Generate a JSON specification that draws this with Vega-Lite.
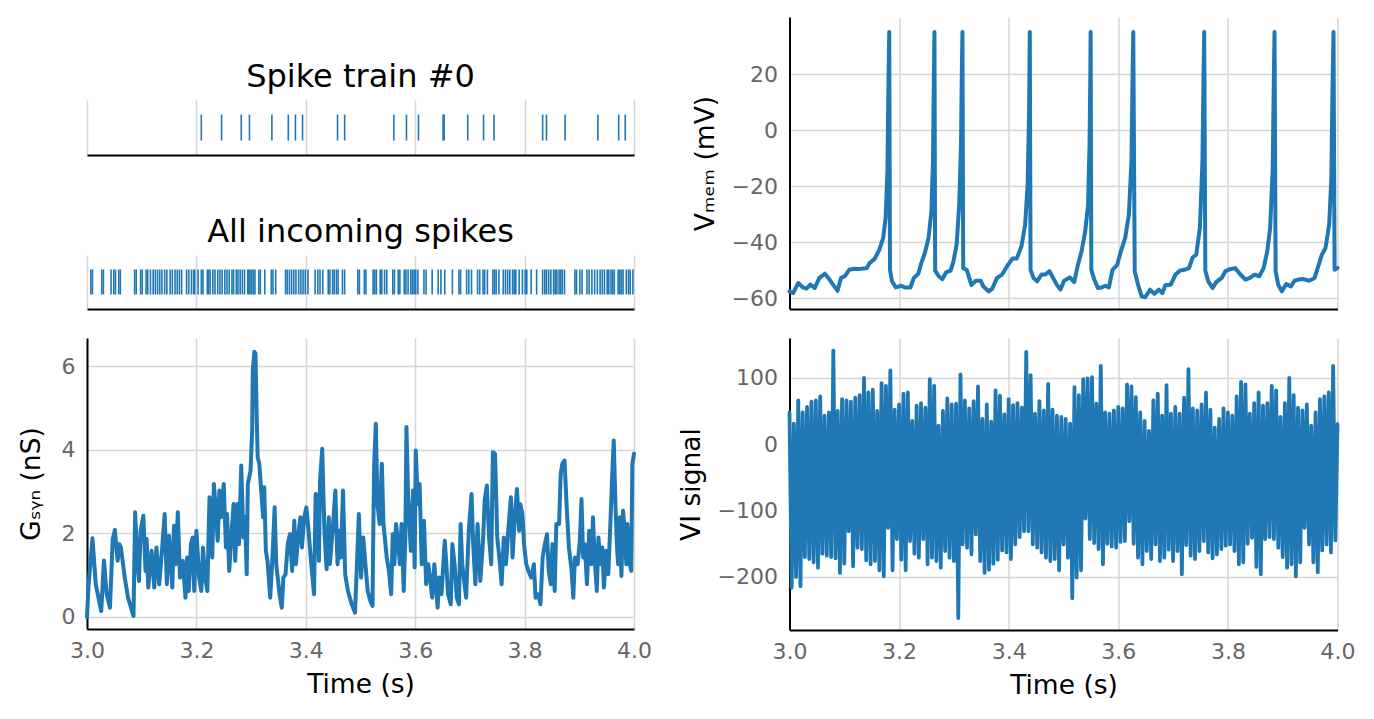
{
"$schema": "https://vega.github.io/schema/vega-lite/v6.json",
"background": "white",
"padding": {"left": 18, "top": 17, "right": 5, "bottom": 5},
"config": {
 "font": "DejaVu Sans",
 "view": {"stroke": null},
 "axis": {"domainColor": "#000000", "domainWidth": 2, "gridColor": "#d6d6d6", "gridWidth": 1.5, "ticks": false, "labelColor": "#666666", "labelFontSize": 22, "titleFontSize": 26.5, "titleFontWeight": "normal", "titleColor": "#000000", "labelFlush": false},
 "axisX": {"labelPadding": 11, "titlePadding": 10},
 "axisY": {"labelPadding": 12, "titlePadding": 12},
 "title": {"fontSize": 32, "fontWeight": "normal", "color": "#000000", "offset": 6}
},
"datasets": {
 "spk0": [{"t":3.209},{"t":3.246},{"t":3.282},{"t":3.297},{"t":3.338},{"t":3.368},{"t":3.381},{"t":3.394},{"t":3.458},{"t":3.471},{"t":3.561},{"t":3.584},{"t":3.606},{"t":3.651},{"t":3.653},{"t":3.696},{"t":3.725},{"t":3.744},{"t":3.833},{"t":3.840},{"t":3.874},{"t":3.934},{"t":3.972},{"t":3.984}],
 "inc": [{"t":3.007},{"t":3.010},{"t":3.027},{"t":3.030},{"t":3.044},{"t":3.049},{"t":3.052},{"t":3.058},{"t":3.061},{"t":3.087},{"t":3.090},{"t":3.098},{"t":3.101},{"t":3.108},{"t":3.111},{"t":3.116},{"t":3.121},{"t":3.125},{"t":3.129},{"t":3.133},{"t":3.137},{"t":3.142},{"t":3.146},{"t":3.152},{"t":3.156},{"t":3.161},{"t":3.165},{"t":3.169},{"t":3.173},{"t":3.182},{"t":3.186},{"t":3.191},{"t":3.195},{"t":3.197},{"t":3.203},{"t":3.209},{"t":3.212},{"t":3.220},{"t":3.222},{"t":3.225},{"t":3.230},{"t":3.234},{"t":3.239},{"t":3.243},{"t":3.247},{"t":3.252},{"t":3.256},{"t":3.260},{"t":3.265},{"t":3.268},{"t":3.273},{"t":3.276},{"t":3.280},{"t":3.284},{"t":3.288},{"t":3.294},{"t":3.296},{"t":3.298},{"t":3.301},{"t":3.304},{"t":3.307},{"t":3.314},{"t":3.317},{"t":3.325},{"t":3.337},{"t":3.340},{"t":3.345},{"t":3.363},{"t":3.366},{"t":3.370},{"t":3.374},{"t":3.378},{"t":3.382},{"t":3.387},{"t":3.391},{"t":3.395},{"t":3.399},{"t":3.404},{"t":3.417},{"t":3.422},{"t":3.426},{"t":3.431},{"t":3.441},{"t":3.444},{"t":3.449},{"t":3.452},{"t":3.456},{"t":3.459},{"t":3.467},{"t":3.471},{"t":3.495},{"t":3.498},{"t":3.507},{"t":3.510},{"t":3.523},{"t":3.526},{"t":3.529},{"t":3.536},{"t":3.539},{"t":3.544},{"t":3.548},{"t":3.559},{"t":3.562},{"t":3.569},{"t":3.572},{"t":3.580},{"t":3.583},{"t":3.587},{"t":3.592},{"t":3.595},{"t":3.598},{"t":3.601},{"t":3.605},{"t":3.616},{"t":3.620},{"t":3.631},{"t":3.642},{"t":3.647},{"t":3.654},{"t":3.668},{"t":3.680},{"t":3.683},{"t":3.694},{"t":3.698},{"t":3.703},{"t":3.714},{"t":3.718},{"t":3.724},{"t":3.727},{"t":3.732},{"t":3.742},{"t":3.745},{"t":3.748},{"t":3.753},{"t":3.761},{"t":3.765},{"t":3.769},{"t":3.773},{"t":3.778},{"t":3.781},{"t":3.784},{"t":3.790},{"t":3.796},{"t":3.801},{"t":3.804},{"t":3.812},{"t":3.822},{"t":3.833},{"t":3.837},{"t":3.840},{"t":3.844},{"t":3.848},{"t":3.853},{"t":3.856},{"t":3.859},{"t":3.863},{"t":3.866},{"t":3.869},{"t":3.873},{"t":3.892},{"t":3.895},{"t":3.901},{"t":3.905},{"t":3.914},{"t":3.918},{"t":3.923},{"t":3.928},{"t":3.933},{"t":3.938},{"t":3.942},{"t":3.946},{"t":3.951},{"t":3.954},{"t":3.958},{"t":3.961},{"t":3.964},{"t":3.971},{"t":3.974},{"t":3.977},{"t":3.980},{"t":3.986},{"t":3.990},{"t":3.993},{"t":3.998}],
 "gsyn": [{"t":3.000,"g":0},{"t":3.003,"g":0.78},{"t":3.010,"g":1.88},{"t":3.016,"g":0.78},{"t":3.026,"g":0.14},{"t":3.031,"g":1.35},{"t":3.036,"g":0.54},{"t":3.042,"g":0.22},{"t":3.047,"g":1.86},{"t":3.051,"g":2.08},{"t":3.056,"g":1.34},{"t":3.059,"g":1.74},{"t":3.062,"g":1.66},{"t":3.069,"g":0.94},{"t":3.075,"g":0.46},{"t":3.085,"g":0.02},{"t":3.088,"g":2.50},{"t":3.092,"g":1.34},{"t":3.095,"g":0.86},{"t":3.098,"g":2.06},{"t":3.103,"g":2.42},{"t":3.107,"g":1.10},{"t":3.109,"g":1.86},{"t":3.112,"g":0.70},{"t":3.118,"g":1.58},{"t":3.123,"g":0.70},{"t":3.127,"g":1.66},{"t":3.132,"g":0.78},{"t":3.137,"g":1.58},{"t":3.142,"g":2.46},{"t":3.146,"g":0.78},{"t":3.150,"g":1.94},{"t":3.156,"g":0.70},{"t":3.159,"g":2.18},{"t":3.162,"g":1.26},{"t":3.166,"g":2.50},{"t":3.170,"g":0.94},{"t":3.175,"g":1.34},{"t":3.180,"g":0.46},{"t":3.183,"g":1.42},{"t":3.186,"g":0.62},{"t":3.190,"g":1.74},{"t":3.193,"g":1.90},{"t":3.196,"g":0.62},{"t":3.200,"g":2.06},{"t":3.205,"g":0.94},{"t":3.209,"g":0.62},{"t":3.212,"g":1.66},{"t":3.216,"g":0.94},{"t":3.220,"g":0.62},{"t":3.222,"g":1.82},{"t":3.224,"g":2.86},{"t":3.229,"g":1.42},{"t":3.232,"g":3.18},{"t":3.235,"g":2.62},{"t":3.239,"g":1.82},{"t":3.242,"g":3.02},{"t":3.245,"g":2.38},{"t":3.250,"g":3.18},{"t":3.254,"g":1.66},{"t":3.256,"g":2.46},{"t":3.260,"g":1.10},{"t":3.265,"g":2.14},{"t":3.268,"g":2.70},{"t":3.271,"g":1.34},{"t":3.275,"g":2.70},{"t":3.278,"g":1.74},{"t":3.282,"g":3.62},{"t":3.286,"g":1.90},{"t":3.289,"g":2.38},{"t":3.292,"g":1.02},{"t":3.294,"g":3.18},{"t":3.299,"g":3.50},{"t":3.302,"g":4.46},{"t":3.303,"g":5.90},{"t":3.306,"g":6.34},{"t":3.308,"g":6.30},{"t":3.310,"g":4.94},{"t":3.312,"g":3.82},{"t":3.315,"g":3.66},{"t":3.318,"g":3.10},{"t":3.322,"g":2.38},{"t":3.324,"g":3.10},{"t":3.327,"g":1.58},{"t":3.330,"g":1.34},{"t":3.335,"g":0.46},{"t":3.339,"g":1.42},{"t":3.343,"g":2.62},{"t":3.346,"g":1.26},{"t":3.352,"g":0.54},{"t":3.356,"g":0.22},{"t":3.359,"g":0.94},{"t":3.363,"g":1.02},{"t":3.367,"g":1.74},{"t":3.371,"g":1.98},{"t":3.375,"g":1.10},{"t":3.379,"g":2.30},{"t":3.382,"g":1.26},{"t":3.386,"g":1.90},{"t":3.390,"g":2.38},{"t":3.393,"g":1.66},{"t":3.397,"g":2.38},{"t":3.401,"g":2.62},{"t":3.405,"g":2.06},{"t":3.410,"g":1.26},{"t":3.415,"g":0.54},{"t":3.418,"g":2.94},{"t":3.421,"g":2.86},{"t":3.424,"g":1.34},{"t":3.426,"g":3.26},{"t":3.430,"g":4.02},{"t":3.434,"g":2.06},{"t":3.438,"g":1.14},{"t":3.442,"g":2.38},{"t":3.444,"g":1.26},{"t":3.448,"g":1.90},{"t":3.451,"g":2.42},{"t":3.454,"g":3.02},{"t":3.458,"g":1.26},{"t":3.461,"g":2.06},{"t":3.464,"g":1.42},{"t":3.468,"g":3.02},{"t":3.472,"g":1.02},{"t":3.477,"g":0.62},{"t":3.484,"g":0.30},{"t":3.490,"g":0.10},{"t":3.497,"g":2.46},{"t":3.501,"g":0.94},{"t":3.505,"g":1.90},{"t":3.509,"g":1.26},{"t":3.513,"g":0.62},{"t":3.518,"g":0.38},{"t":3.522,"g":0.26},{"t":3.523,"g":1.62},{"t":3.525,"g":3.66},{"t":3.528,"g":4.62},{"t":3.531,"g":2.70},{"t":3.535,"g":2.22},{"t":3.539,"g":3.66},{"t":3.542,"g":2.22},{"t":3.548,"g":1.42},{"t":3.552,"g":1.10},{"t":3.556,"g":0.54},{"t":3.559,"g":1.98},{"t":3.562,"g":1.26},{"t":3.565,"g":2.22},{"t":3.569,"g":1.74},{"t":3.572,"g":1.26},{"t":3.575,"g":2.22},{"t":3.579,"g":0.62},{"t":3.582,"g":1.90},{"t":3.584,"g":4.54},{"t":3.587,"g":2.86},{"t":3.592,"g":1.58},{"t":3.596,"g":3.02},{"t":3.599,"g":1.18},{"t":3.601,"g":3.98},{"t":3.605,"g":2.70},{"t":3.608,"g":3.18},{"t":3.612,"g":1.26},{"t":3.616,"g":2.30},{"t":3.620,"g":0.78},{"t":3.624,"g":1.26},{"t":3.627,"g":0.94},{"t":3.631,"g":0.46},{"t":3.635,"g":1.26},{"t":3.641,"g":0.22},{"t":3.644,"g":0.94},{"t":3.648,"g":0.54},{"t":3.654,"g":1.82},{"t":3.657,"g":1.26},{"t":3.660,"g":0.54},{"t":3.665,"g":0.30},{"t":3.668,"g":1.74},{"t":3.672,"g":1.26},{"t":3.676,"g":0.46},{"t":3.680,"g":0.30},{"t":3.683,"g":2.22},{"t":3.686,"g":1.26},{"t":3.693,"g":0.46},{"t":3.698,"g":2.06},{"t":3.703,"g":2.94},{"t":3.706,"g":1.74},{"t":3.710,"g":0.78},{"t":3.714,"g":2.22},{"t":3.719,"g":0.86},{"t":3.724,"g":1.82},{"t":3.727,"g":2.78},{"t":3.731,"g":3.14},{"t":3.735,"g":1.90},{"t":3.739,"g":1.26},{"t":3.742,"g":3.94},{"t":3.746,"g":3.90},{"t":3.750,"g":1.90},{"t":3.755,"g":1.26},{"t":3.758,"g":0.78},{"t":3.762,"g":1.90},{"t":3.766,"g":1.26},{"t":3.771,"g":2.22},{"t":3.775,"g":2.86},{"t":3.778,"g":1.42},{"t":3.782,"g":2.38},{"t":3.786,"g":3.06},{"t":3.790,"g":2.06},{"t":3.792,"g":2.70},{"t":3.796,"g":2.46},{"t":3.799,"g":1.74},{"t":3.803,"g":1.26},{"t":3.807,"g":1.10},{"t":3.812,"g":0.94},{"t":3.817,"g":1.26},{"t":3.820,"g":0.46},{"t":3.825,"g":0.54},{"t":3.829,"g":0.30},{"t":3.833,"g":1.42},{"t":3.837,"g":1.74},{"t":3.841,"g":1.98},{"t":3.844,"g":1.10},{"t":3.848,"g":0.78},{"t":3.851,"g":1.74},{"t":3.855,"g":0.62},{"t":3.858,"g":2.22},{"t":3.863,"g":2.22},{"t":3.866,"g":3.42},{"t":3.869,"g":3.66},{"t":3.873,"g":3.74},{"t":3.877,"g":2.62},{"t":3.881,"g":1.66},{"t":3.886,"g":1.10},{"t":3.889,"g":0.46},{"t":3.892,"g":1.42},{"t":3.897,"g":1.26},{"t":3.901,"g":1.82},{"t":3.904,"g":2.82},{"t":3.907,"g":1.42},{"t":3.910,"g":1.74},{"t":3.914,"g":0.78},{"t":3.918,"g":2.06},{"t":3.922,"g":1.26},{"t":3.925,"g":2.38},{"t":3.928,"g":1.42},{"t":3.932,"g":0.62},{"t":3.935,"g":1.90},{"t":3.939,"g":1.26},{"t":3.942,"g":1.66},{"t":3.945,"g":0.70},{"t":3.949,"g":1.58},{"t":3.953,"g":1.02},{"t":3.957,"g":2.30},{"t":3.961,"g":3.66},{"t":3.963,"g":4.22},{"t":3.966,"g":2.70},{"t":3.969,"g":1.66},{"t":3.971,"g":1.26},{"t":3.974,"g":2.38},{"t":3.977,"g":0.98},{"t":3.980,"g":2.54},{"t":3.983,"g":2.06},{"t":3.986,"g":1.26},{"t":3.988,"g":2.22},{"t":3.991,"g":1.34},{"t":3.995,"g":1.10},{"t":3.997,"g":3.66},{"t":4.000,"g":3.90}],
 "vmem": [{"t":3.000,"v":-57.6},{"t":3.0066,"v":-58.2},{"t":3.016,"v":-54.6},{"t":3.0246,"v":-56.2},{"t":3.031,"v":-56.6},{"t":3.038,"v":-55.2},{"t":3.046,"v":-56.4},{"t":3.0545,"v":-52.8},{"t":3.0645,"v":-51.3},{"t":3.073,"v":-53.4},{"t":3.0877,"v":-57.4},{"t":3.094,"v":-52.8},{"t":3.101,"v":-52.2},{"t":3.109,"v":-49.9},{"t":3.1176,"v":-49.5},{"t":3.1276,"v":-49.6},{"t":3.141,"v":-49.3},{"t":3.146,"v":-47.5},{"t":3.1555,"v":-46.0},{"t":3.164,"v":-42.7},{"t":3.171,"v":-38.5},{"t":3.1754,"v":-31.4},{"t":3.1787,"v":-14.7},{"t":3.1807,"v":18.6},{"t":3.182,"v":35.0},{"t":3.1834,"v":-49.9},{"t":3.187,"v":-54.0},{"t":3.194,"v":-56.2},{"t":3.204,"v":-55.6},{"t":3.2106,"v":-56.2},{"t":3.2206,"v":-56.2},{"t":3.227,"v":-52.8},{"t":3.235,"v":-51.3},{"t":3.2405,"v":-47.5},{"t":3.247,"v":-43.9},{"t":3.2538,"v":-38.5},{"t":3.259,"v":-29.0},{"t":3.2618,"v":-11.2},{"t":3.2631,"v":12.6},{"t":3.2645,"v":35.0},{"t":3.2658,"v":-50.2},{"t":3.2724,"v":-52.2},{"t":3.279,"v":-53.2},{"t":3.2857,"v":-50.8},{"t":3.294,"v":-50.2},{"t":3.299,"v":-47.1},{"t":3.305,"v":-40.9},{"t":3.3097,"v":-26.6},{"t":3.313,"v":-5.2},{"t":3.3143,"v":18.6},{"t":3.3156,"v":35.0},{"t":3.317,"v":-49.3},{"t":3.3236,"v":-50.0},{"t":3.332,"v":-55.4},{"t":3.340,"v":-53.8},{"t":3.349,"v":-53.8},{"t":3.3535,"v":-55.8},{"t":3.3635,"v":-57.6},{"t":3.370,"v":-56.6},{"t":3.3787,"v":-52.8},{"t":3.388,"v":-51.6},{"t":3.3967,"v":-48.7},{"t":3.4067,"v":-45.9},{"t":3.4146,"v":-45.9},{"t":3.4233,"v":-41.5},{"t":3.430,"v":-33.8},{"t":3.4346,"v":-19.5},{"t":3.4372,"v":6.7},{"t":3.4385,"v":35.0},{"t":3.4399,"v":-49.9},{"t":3.4452,"v":-52.8},{"t":3.4518,"v":-54.0},{"t":3.4598,"v":-51.6},{"t":3.4665,"v":-51.6},{"t":3.4744,"v":-50.4},{"t":3.481,"v":-52.8},{"t":3.4877,"v":-55.2},{"t":3.4944,"v":-57.0},{"t":3.501,"v":-53.8},{"t":3.5116,"v":-52.6},{"t":3.5196,"v":-54.3},{"t":3.5263,"v":-48.1},{"t":3.533,"v":-43.3},{"t":3.5396,"v":-36.2},{"t":3.5449,"v":-26.6},{"t":3.5475,"v":-5.2},{"t":3.5489,"v":18.6},{"t":3.5495,"v":35.0},{"t":3.5508,"v":-49.9},{"t":3.5562,"v":-53.4},{"t":3.5628,"v":-56.4},{"t":3.5695,"v":-56.2},{"t":3.5761,"v":-55.6},{"t":3.5828,"v":-56.2},{"t":3.5894,"v":-49.9},{"t":3.598,"v":-48.1},{"t":3.6047,"v":-43.3},{"t":3.6126,"v":-38.5},{"t":3.6193,"v":-30.2},{"t":3.624,"v":-11.2},{"t":3.626,"v":18.6},{"t":3.6273,"v":35.0},{"t":3.630,"v":-50.4},{"t":3.636,"v":-55.2},{"t":3.6425,"v":-59.4},{"t":3.6492,"v":-59.7},{"t":3.6578,"v":-57.0},{"t":3.6658,"v":-58.5},{"t":3.6738,"v":-57.0},{"t":3.6804,"v":-58.2},{"t":3.6858,"v":-55.4},{"t":3.6957,"v":-55.2},{"t":3.7044,"v":-51.6},{"t":3.7123,"v":-50.2},{"t":3.7203,"v":-49.9},{"t":3.729,"v":-49.3},{"t":3.7356,"v":-45.5},{"t":3.7422,"v":-44.5},{"t":3.7489,"v":-35.0},{"t":3.7535,"v":-11.2},{"t":3.7555,"v":18.6},{"t":3.7568,"v":35.0},{"t":3.7588,"v":-50.2},{"t":3.7641,"v":-54.0},{"t":3.7721,"v":-56.4},{"t":3.7787,"v":-54.3},{"t":3.7887,"v":-52.8},{"t":3.7954,"v":-50.4},{"t":3.8053,"v":-49.6},{"t":3.8133,"v":-49.3},{"t":3.822,"v":-51.4},{"t":3.832,"v":-53.4},{"t":3.840,"v":-52.8},{"t":3.8486,"v":-51.6},{"t":3.8572,"v":-52.2},{"t":3.8652,"v":-49.3},{"t":3.8718,"v":-43.3},{"t":3.8771,"v":-35.0},{"t":3.8818,"v":-13.6},{"t":3.8838,"v":18.6},{"t":3.8851,"v":35.0},{"t":3.8871,"v":-50.4},{"t":3.8918,"v":-55.2},{"t":3.8984,"v":-57.6},{"t":3.9064,"v":-55.0},{"t":3.915,"v":-55.8},{"t":3.9217,"v":-53.8},{"t":3.9283,"v":-53.4},{"t":3.9383,"v":-53.2},{"t":3.9482,"v":-53.8},{"t":3.9582,"v":-52.8},{"t":3.9648,"v":-48.7},{"t":3.9715,"v":-44.5},{"t":3.9781,"v":-42.1},{"t":3.9848,"v":-33.8},{"t":3.9888,"v":-17.1},{"t":3.9907,"v":12.6},{"t":3.9927,"v":35.0},{"t":3.9947,"v":-49.9},{"t":4.000,"v":-49.3}],
 "vi": [{"t":3.000,"s":48},{"t":3.004,"s":-216},{"t":3.008,"s":31},{"t":3.012,"s":-200},{"t":3.016,"s":66},{"t":3.020,"s":-214},{"t":3.024,"s":48},{"t":3.028,"s":-170},{"t":3.032,"s":56},{"t":3.036,"s":-173},{"t":3.040,"s":64},{"t":3.044,"s":-178},{"t":3.048,"s":66},{"t":3.052,"s":-186},{"t":3.056,"s":72},{"t":3.060,"s":-165},{"t":3.064,"s":43},{"t":3.068,"s":-168},{"t":3.072,"s":48},{"t":3.076,"s":-170},{"t":3.080,"s":141},{"t":3.084,"s":-172},{"t":3.088,"s":50},{"t":3.092,"s":-194},{"t":3.096,"s":68},{"t":3.100,"s":-180},{"t":3.104,"s":66},{"t":3.108,"s":-131},{"t":3.112,"s":64},{"t":3.116,"s":-184},{"t":3.120,"s":70},{"t":3.124,"s":-156},{"t":3.128,"s":74},{"t":3.132,"s":-158},{"t":3.136,"s":100},{"t":3.140,"s":-175},{"t":3.144,"s":78},{"t":3.148,"s":-181},{"t":3.152,"s":82},{"t":3.156,"s":-176},{"t":3.160,"s":50},{"t":3.164,"s":-190},{"t":3.168,"s":92},{"t":3.172,"s":-199},{"t":3.176,"s":88},{"t":3.180,"s":-126},{"t":3.184,"s":111},{"t":3.188,"s":-190},{"t":3.192,"s":52},{"t":3.196,"s":-143},{"t":3.200,"s":60},{"t":3.204,"s":-174},{"t":3.208,"s":76},{"t":3.212,"s":-190},{"t":3.216,"s":78},{"t":3.220,"s":-146},{"t":3.224,"s":35},{"t":3.228,"s":-165},{"t":3.232,"s":58},{"t":3.236,"s":-171},{"t":3.240,"s":62},{"t":3.244,"s":-143},{"t":3.248,"s":55},{"t":3.252,"s":-181},{"t":3.256,"s":98},{"t":3.260,"s":-171},{"t":3.264,"s":88},{"t":3.268,"s":-176},{"t":3.272,"s":28},{"t":3.276,"s":-186},{"t":3.280,"s":50},{"t":3.284,"s":-161},{"t":3.288,"s":69},{"t":3.292,"s":-171},{"t":3.296,"s":60},{"t":3.300,"s":-176},{"t":3.304,"s":61},{"t":3.308,"s":-262},{"t":3.312,"s":105},{"t":3.316,"s":-151},{"t":3.320,"s":66},{"t":3.324,"s":-156},{"t":3.328,"s":54},{"t":3.332,"s":-166},{"t":3.336,"s":65},{"t":3.340,"s":-136},{"t":3.344,"s":87},{"t":3.348,"s":-176},{"t":3.352,"s":38},{"t":3.356,"s":-194},{"t":3.360,"s":60},{"t":3.364,"s":-189},{"t":3.368,"s":34},{"t":3.372,"s":-180},{"t":3.376,"s":81},{"t":3.380,"s":-174},{"t":3.384,"s":73},{"t":3.388,"s":-160},{"t":3.392,"s":45},{"t":3.396,"s":-163},{"t":3.400,"s":68},{"t":3.404,"s":-173},{"t":3.408,"s":59},{"t":3.412,"s":-151},{"t":3.416,"s":62},{"t":3.420,"s":-140},{"t":3.424,"s":55},{"t":3.428,"s":-131},{"t":3.432,"s":139},{"t":3.436,"s":-131},{"t":3.440,"s":104},{"t":3.444,"s":-151},{"t":3.448,"s":46},{"t":3.452,"s":-156},{"t":3.456,"s":65},{"t":3.460,"s":-163},{"t":3.464,"s":51},{"t":3.468,"s":-171},{"t":3.472,"s":91},{"t":3.476,"s":-176},{"t":3.480,"s":52},{"t":3.484,"s":-173},{"t":3.488,"s":43},{"t":3.492,"s":-190},{"t":3.496,"s":41},{"t":3.500,"s":-151},{"t":3.504,"s":38},{"t":3.508,"s":-171},{"t":3.512,"s":31},{"t":3.516,"s":-232},{"t":3.520,"s":86},{"t":3.524,"s":-201},{"t":3.528,"s":74},{"t":3.532,"s":-190},{"t":3.536,"s":98},{"t":3.540,"s":-112},{"t":3.544,"s":99},{"t":3.548,"s":-143},{"t":3.552,"s":101},{"t":3.556,"s":-149},{"t":3.560,"s":61},{"t":3.564,"s":-158},{"t":3.568,"s":118},{"t":3.572,"s":-181},{"t":3.576,"s":48},{"t":3.580,"s":-150},{"t":3.584,"s":46},{"t":3.588,"s":-154},{"t":3.592,"s":51},{"t":3.596,"s":-156},{"t":3.600,"s":56},{"t":3.604,"s":-147},{"t":3.608,"s":54},{"t":3.612,"s":-146},{"t":3.616,"s":90},{"t":3.620,"s":-116},{"t":3.624,"s":87},{"t":3.628,"s":-150},{"t":3.632,"s":71},{"t":3.636,"s":-171},{"t":3.640,"s":48},{"t":3.644,"s":-181},{"t":3.648,"s":35},{"t":3.652,"s":-161},{"t":3.656,"s":20},{"t":3.660,"s":-173},{"t":3.664,"s":66},{"t":3.668,"s":-151},{"t":3.672,"s":76},{"t":3.676,"s":-176},{"t":3.680,"s":43},{"t":3.684,"s":-171},{"t":3.688,"s":89},{"t":3.692,"s":-159},{"t":3.696,"s":46},{"t":3.700,"s":-176},{"t":3.704,"s":56},{"t":3.708,"s":-161},{"t":3.712,"s":46},{"t":3.716,"s":-196},{"t":3.720,"s":70},{"t":3.724,"s":-152},{"t":3.728,"s":113},{"t":3.732,"s":-168},{"t":3.736,"s":54},{"t":3.740,"s":-173},{"t":3.744,"s":51},{"t":3.748,"s":-161},{"t":3.752,"s":60},{"t":3.756,"s":-146},{"t":3.760,"s":78},{"t":3.764,"s":-163},{"t":3.768,"s":52},{"t":3.772,"s":-172},{"t":3.776,"s":25},{"t":3.780,"s":-166},{"t":3.784,"s":38},{"t":3.788,"s":-158},{"t":3.792,"s":54},{"t":3.796,"s":-153},{"t":3.800,"s":48},{"t":3.804,"s":-151},{"t":3.808,"s":43},{"t":3.812,"s":-161},{"t":3.816,"s":72},{"t":3.820,"s":-181},{"t":3.824,"s":94},{"t":3.828,"s":-178},{"t":3.832,"s":90},{"t":3.836,"s":-150},{"t":3.840,"s":46},{"t":3.844,"s":-141},{"t":3.848,"s":62},{"t":3.852,"s":-185},{"t":3.856,"s":78},{"t":3.860,"s":-196},{"t":3.864,"s":58},{"t":3.868,"s":-143},{"t":3.872,"s":62},{"t":3.876,"s":-140},{"t":3.880,"s":88},{"t":3.884,"s":-143},{"t":3.888,"s":81},{"t":3.892,"s":-156},{"t":3.896,"s":41},{"t":3.900,"s":-170},{"t":3.904,"s":62},{"t":3.908,"s":-186},{"t":3.912,"s":100},{"t":3.916,"s":-181},{"t":3.920,"s":74},{"t":3.924,"s":-199},{"t":3.928,"s":55},{"t":3.932,"s":-178},{"t":3.936,"s":51},{"t":3.940,"s":-126},{"t":3.944,"s":60},{"t":3.948,"s":-151},{"t":3.952,"s":28},{"t":3.956,"s":-178},{"t":3.960,"s":48},{"t":3.964,"s":-193},{"t":3.968,"s":68},{"t":3.972,"s":-160},{"t":3.976,"s":72},{"t":3.980,"s":-151},{"t":3.984,"s":78},{"t":3.988,"s":-163},{"t":3.992,"s":118},{"t":3.996,"s":-145},{"t":4.000,"s":30}]
},
"resolve": {"scale": {"x": "independent", "y": "independent"}},
"spacing": 25.5,
"hconcat": [
 {
  "spacing": 0,
  "resolve": {"scale": {"x": "independent", "y": "independent"}},
  "vconcat": [
   {"width": 547, "height": 44, "data": {"values": [{}]}, "mark": {"type": "point", "opacity": 0}, "encoding": {}},
   {
    "width": 547, "height": 55,
    "title": "Spike train #0",
    "data": {"name": "spk0"},
    "mark": {"type": "tick", "color": "#1f77b4", "thickness": 1.6, "size": 26, "opacity": 1},
    "encoding": {"x": {"field": "t", "type": "quantitative", "scale": {"domain": [3, 4], "nice": false, "zero": false}, "axis": {"values": [3, 3.2, 3.4, 3.6, 3.8, 4], "labels": false, "title": null}}}
   },
   {"width": 547, "height": 60.5, "data": {"values": [{}]}, "mark": {"type": "point", "opacity": 0}, "encoding": {}},
   {
    "width": 547, "height": 54,
    "title": "All incoming spikes",
    "data": {"name": "inc"},
    "mark": {"type": "tick", "color": "#1f77b4", "thickness": 1.6, "size": 25, "opacity": 1},
    "encoding": {"x": {"field": "t", "type": "quantitative", "scale": {"domain": [3, 4], "nice": false, "zero": false}, "axis": {"values": [3, 3.2, 3.4, 3.6, 3.8, 4], "labels": false, "title": null}}}
   },
   {"width": 547, "height": 29, "data": {"values": [{}]}, "mark": {"type": "point", "opacity": 0}, "encoding": {}},
   {
    "width": 547, "height": 291,
    "data": {"name": "gsyn"},
    "mark": {"type": "line", "color": "#1f77b4", "strokeWidth": 4, "strokeJoin": "round", "strokeCap": "round"},
    "encoding": {
     "x": {"field": "t", "type": "quantitative", "scale": {"domain": [3, 4], "nice": false, "zero": false}, "axis": {"values": [3, 3.2, 3.4, 3.6, 3.8, 4], "format": ".1f", "title": "Time (s)"}},
     "y": {"field": "g", "type": "quantitative", "scale": {"domain": [-0.29, 6.67], "nice": false, "zero": false}, "axis": {"values": [0, 2, 4, 6], "title": "Gₛᵧₙ (nS)", "titlePadding": 16}}
    }
   }
  ]
 },
 {
  "spacing": 28,
  "resolve": {"scale": {"x": "independent", "y": "independent"}},
  "vconcat": [
   {
    "width": 548, "height": 292,
    "data": {"name": "vmem"},
    "mark": {"type": "line", "color": "#1f77b4", "strokeWidth": 4, "strokeJoin": "round", "strokeCap": "round"},
    "encoding": {
     "x": {"field": "t", "type": "quantitative", "scale": {"domain": [3, 4], "nice": false, "zero": false}, "axis": {"values": [3, 3.2, 3.4, 3.6, 3.8, 4], "labels": false, "title": null}},
     "y": {"field": "v", "type": "quantitative", "scale": {"domain": [-63.9, 40.4], "nice": false, "zero": false}, "axis": {"values": [-60, -40, -20, 0, 20], "title": "Vₘₑₘ (mV)"}}
    }
   },
   {
    "width": 548, "height": 292,
    "data": {"name": "vi"},
    "mark": {"type": "line", "color": "#1f77b4", "strokeWidth": 3.8, "strokeJoin": "round", "strokeCap": "round"},
    "encoding": {
     "x": {"field": "t", "type": "quantitative", "scale": {"domain": [3, 4], "nice": false, "zero": false}, "axis": {"values": [3, 3.2, 3.4, 3.6, 3.8, 4], "format": ".1f", "title": "Time (s)"}},
     "y": {"field": "s", "type": "quantitative", "scale": {"domain": [-280, 160], "nice": false, "zero": false}, "axis": {"values": [-200, -100, 0, 100], "title": "VI signal"}}
    }
   }
  ]
 }
]
}
